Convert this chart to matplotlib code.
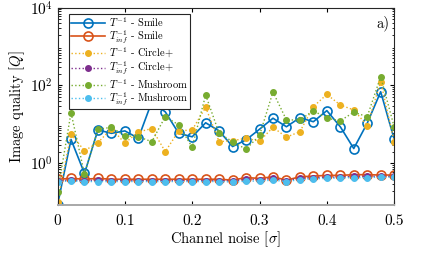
import numpy as np
import matplotlib
matplotlib.use("Agg")
import matplotlib.pyplot as plt

plt.rcParams['font.family'] = ['cmr10', 'DejaVu Serif']
plt.rcParams['mathtext.fontset'] = 'cm'
plt.rcParams['axes.formatter.use_mathtext'] = True

# Datos
sigma = [0.00, 0.02, 0.04, 0.06, 0.08, 0.10, 0.12, 0.14, 0.16, 0.18, 0.20, 0.22, 0.24,
         0.26, 0.28, 0.30, 0.32, 0.34, 0.36, 0.38, 0.40, 0.42, 0.44, 0.46, 0.48, 0.50]

smile_T = [0.085, 4.1, 0.55, 7.2, 5.9, 6.8, 4.4, 38, 21, 5.9, 4.8, 11, 6.8,
           2.7, 4.0, 7.5, 14.4, 8.7, 14.9, 11.7, 22.6, 8.7, 2.4, 10.7, 69, 4.2]
smile_Tinf = [0.39, 0.41, 0.39, 0.41, 0.39, 0.39, 0.39, 0.39, 0.39, 0.39, 0.39, 0.39, 0.39,
              0.37, 0.43, 0.41, 0.45, 0.37, 0.45, 0.47, 0.49, 0.49, 0.51, 0.51, 0.50, 0.50]
circle_T = [0.10, 5.7, 2.1, 3.4, 7.8, 3.3, 6.4, 7.8, 2.0, 6.8, 7.2, 27.5, 3.6,
            3.8, 4.4, 3.7, 8.4, 4.7, 6.5, 28.5, 59, 31.5, 23.5, 9.3, 125, 3.6]
circle_Tinf = [0.36, 0.37, 0.36, 0.37, 0.36, 0.36, 0.36, 0.36, 0.36, 0.36, 0.36, 0.36, 0.36,
               0.35, 0.39, 0.38, 0.41, 0.36, 0.41, 0.43, 0.44, 0.44, 0.46, 0.46, 0.46, 0.46]
mush_T = [0.18, 20, 0.53, 7.5, 8.4, 5.1, 4.8, 3.6, 15.8, 9.7, 2.6, 57, 5.9,
          3.6, 2.3, 5.2, 68, 13, 13, 22.5, 14.4, 12.4, 20.5, 15.8, 169, 8.7]
mush_Tinf = [0.34, 0.35, 0.34, 0.34, 0.34, 0.34, 0.34, 0.34, 0.34, 0.34, 0.34, 0.34, 0.34,
             0.33, 0.35, 0.35, 0.37, 0.34, 0.38, 0.40, 0.41, 0.42, 0.43, 0.43, 0.44, 0.44]

fig = plt.figure(figsize=(4.36, 2.54), dpi=100)
ax = fig.add_axes([0.132, 0.193, 0.772, 0.777])

ax.plot(sigma, smile_T, '-o', color='#0072BD', lw=1.2, ms=6.5, mfc='none', mew=1.2,
        label=r'$T^{-1}$ - Smile')
ax.plot(sigma, smile_Tinf, '-o', color='#D95319', lw=1.2, ms=6.5, mfc='none', mew=1.2,
        label=r'$T^{-1}_{inf}$ - Smile')
ax.plot(sigma, circle_T, ':o', color='#EDB120', lw=1.0, ms=4, label=r'$T^{-1}$ - Circle+')
ax.plot(sigma, circle_Tinf, ':o', color='#7E2F8E', lw=1.0, ms=4, label=r'$T^{-1}_{inf}$ - Circle+')
ax.plot(sigma, mush_T, ':o', color='#77AC30', lw=1.0, ms=4, label=r'$T^{-1}$ - Mushroom')
ax.plot(sigma, mush_Tinf, ':o', color='#4DBEEE', lw=1.0, ms=4, label=r'$T^{-1}_{inf}$ - Mushroom')

ax.set_yscale('log')
ax.set_xlim(0, 0.5)
ax.set_ylim(0.085, 1e4)
ax.set_xticks([0, 0.1, 0.2, 0.3, 0.4, 0.5])
ax.set_xticklabels(['0', '0.1', '0.2', '0.3', '0.4', '0.5'])
ax.set_yticks([1, 1e2, 1e4])
ax.tick_params(which='both', direction='in', top=True, right=True, labelsize=11)
ax.tick_params(which='major', length=3)
ax.tick_params(which='minor', length=1.8)
ax.tick_params(axis='x', pad=7)
for s in ax.spines.values():
    s.set_linewidth(0.8)
    s.set_color('#262626')
ax.spines['bottom'].set_color('#a8a8a8')
ax.spines['bottom'].set_linewidth(1.4)

ax.set_xlabel(r'Channel noise [$\sigma$]', fontsize=10.5, labelpad=1)
ax.set_ylabel(r'Image quality [$Q$]', fontsize=10.5, labelpad=2)
ax.text(0.985, 0.92, 'a)', transform=ax.transAxes, ha='right', va='center', fontsize=10.5)

leg = ax.legend(loc='upper left', bbox_to_anchor=(0.035, 0.97), fontsize=7.6,
                frameon=True, fancybox=False, edgecolor='#262626', framealpha=1,
                handlelength=3.2, borderpad=0.15, labelspacing=0.0, handletextpad=0.4,
                borderaxespad=0, numpoints=1)
leg.get_frame().set_linewidth(0.8)

fig.savefig('out.png', dpi=100)
